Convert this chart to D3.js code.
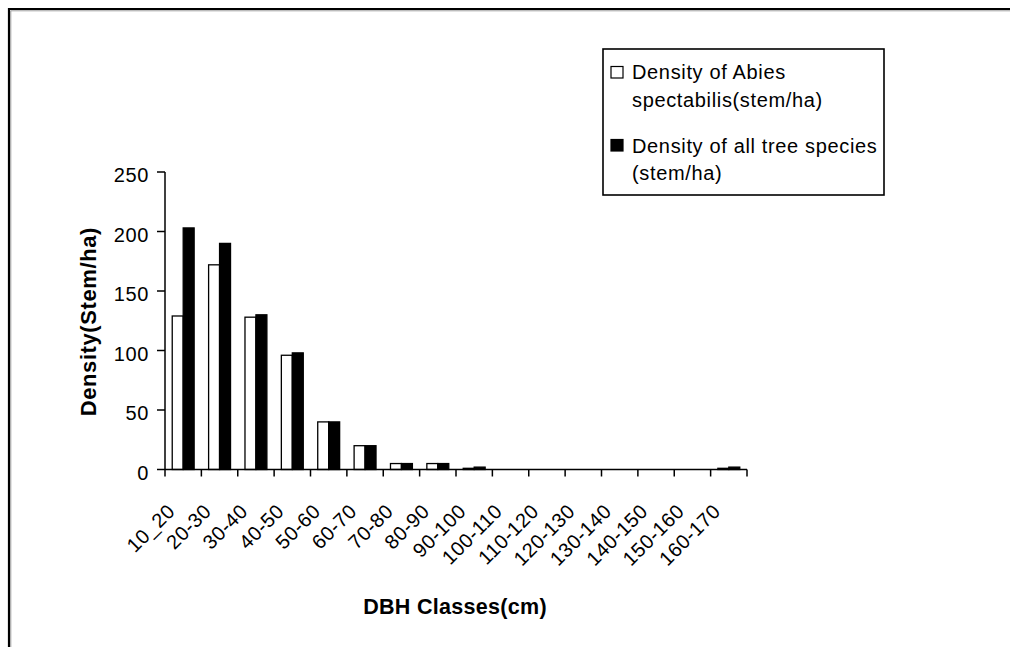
<!DOCTYPE html>
<html>
<head>
<meta charset="utf-8">
<script src="https://cdn.jsdelivr.net/npm/d3@7"></script>
<style>
  html, body { margin: 0; padding: 0; background: #fff; }
  svg { display: block; }
  text { font-family: "Liberation Sans", Arial, sans-serif; fill: #000; }
</style>
</head>
<body>
<svg id="chart" width="1010" height="647"></svg>
<script>
const categories = ["10_20","20-30","30-40","40-50","50-60","60-70","70-80","80-90","90-100","100-110","110-120","120-130","130-140","140-150","150-160","160-170"];
const abiesDensity = [129, 172, 128, 96, 40, 20, 5, 5, 1, 0, 0, 0, 0, 0, 0, 1];
const allDensity   = [203, 190, 130, 98, 40, 20, 5, 5, 2, 0, 0, 0, 0, 0, 0, 2];
const seriesNames = ["Density of Abies spectabilis(stem/ha)", "Density of all tree species (stem/ha)"];
const seriesFill = ["#ffffff", "#000000"];
const yTicks = [0, 50, 100, 150, 200, 250];
const legendLines = [["Density of Abies", "spectabilis(stem/ha)"], ["Density of all tree species", "(stem/ha)"]];

const svg = d3.select("#chart");

// outer frame (extends past the window on the right and bottom)
svg.append("path").attr("d", "M9,1000 L9,9 L1020,9").attr("fill", "none").attr("stroke", "#000").attr("stroke-width", 2.2);
svg.append("path").attr("d", "M10.8,1000 L10.8,10.8 L1020,10.8").attr("fill", "none").attr("stroke", "#888").attr("stroke-width", 0.8);

const plot = { left: 165, right: 747, top: 172, bottom: 469.5 };

const x0 = d3.scaleBand().domain(categories).range([plot.left, plot.right]).paddingInner(0).paddingOuter(0);
const x1 = d3.scaleBand().domain([0, 1]).range([0, x0.bandwidth()]).paddingInner(0).paddingOuter(0.66);
const y = d3.scaleLinear().domain([0, 250]).range([plot.bottom, plot.top]);

const data = categories.map((c, i) => ({ cat: c, vals: [abiesDensity[i], allDensity[i]] }));

// bars
const g = svg.append("g");
data.forEach(d => {
  d.vals.forEach((v, s) => {
    if (v <= 0) return;
    g.append("rect")
      .attr("x", x0(d.cat) + x1(s))
      .attr("y", y(v))
      .attr("width", x1.bandwidth())
      .attr("height", y(0) - y(v))
      .attr("fill", seriesFill[s])
      .attr("stroke", "#000")
      .attr("stroke-width", 1.3);
  });
});

// y axis
const yAxisG = svg.append("g");
yAxisG.append("line").attr("x1", plot.left).attr("x2", plot.left).attr("y1", y(250)).attr("y2", y(0)).attr("stroke", "#000").attr("stroke-width", 1.5);
yTicks.forEach(t => {
  yAxisG.append("line").attr("x1", plot.left - 8).attr("x2", plot.left).attr("y1", y(t)).attr("y2", y(t)).attr("stroke", "#000").attr("stroke-width", 1.5);
  yAxisG.append("text").attr("x", plot.left - 16).attr("y", y(t) + 10).attr("text-anchor", "end")
    .attr("font-size", 20).attr("letter-spacing", 0.6).text(t);
});

// x axis
const xAxisG = svg.append("g");
xAxisG.append("line").attr("x1", plot.left).attr("x2", plot.right).attr("y1", y(0)).attr("y2", y(0)).attr("stroke", "#000").attr("stroke-width", 1.5);
const tickPos = categories.map(c => x0(c)).concat([x0.range()[1]]);
tickPos.forEach(px => {
  xAxisG.append("line").attr("x1", px).attr("x2", px).attr("y1", y(0)).attr("y2", y(0) + 7).attr("stroke", "#000").attr("stroke-width", 1.5);
});
categories.forEach(c => {
  const cx = x0(c) + x0.bandwidth() / 2 - 7;
  xAxisG.append("text")
    .attr("transform", `translate(${cx},${y(0) + 43}) rotate(-45)`)
    .attr("text-anchor", "end")
    .attr("font-size", 20)
    .attr("letter-spacing", 0.5)
    .text(c);
});

// axis titles
svg.append("text").attr("x", 455).attr("y", 614).attr("text-anchor", "middle")
  .attr("font-size", 21.5).attr("font-weight", "bold").attr("letter-spacing", 0.3).text("DBH Classes(cm)");
svg.append("text").attr("transform", "translate(96,227) rotate(-90)").attr("text-anchor", "end")
  .attr("font-size", 22).attr("font-weight", "bold").attr("letter-spacing", 0.6).text("Density(Stem/ha)");

// legend
const lg = svg.append("g");
lg.append("rect").attr("x", 603).attr("y", 49).attr("width", 281).attr("height", 146)
  .attr("fill", "#fff").attr("stroke", "#000").attr("stroke-width", 1.6);
const legendY = [[79, 107], [153, 180]];
const swatchY = [66.5, 139.5];
seriesNames.forEach((name, i) => {
  lg.append("rect").attr("x", 611).attr("y", swatchY[i]).attr("width", 12).attr("height", 11.5)
    .attr("fill", seriesFill[i]).attr("stroke", "#000").attr("stroke-width", 1.2);
  legendLines[i].forEach((ln, j) => {
    lg.append("text").attr("x", 632).attr("y", legendY[i][j]).attr("font-size", 20)
      .attr("letter-spacing", 0.65).text(ln);
  });
});
</script>
</body>
</html>
